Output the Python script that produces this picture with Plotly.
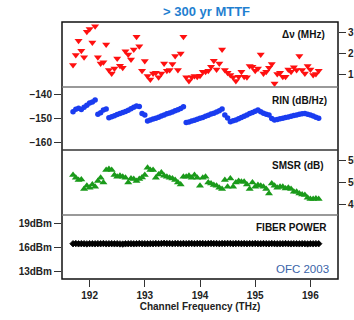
import numpy as np
import plotly.graph_objects as go

# 50 GHz ITU channel grid, 90 channels
channels_thz = np.round(191.70 + 0.05 * np.arange(90), 2)

linewidth_mhz = [
    1.43, 1.91, 2.60, 2.12, 1.80, 3.03, 3.16, 2.52, 3.30, 1.80,
    1.51, 1.56, 2.42, 1.19, 1.03, 1.27, 1.75, 1.40, 1.30, 2.10,
    1.94, 1.70, 2.18, 2.79, 2.34, 1.16, 1.62, 0.90, 0.74, 1.03,
    1.06, 0.84, 1.03, 1.51, 1.16, 1.19, 1.48, 1.86, 1.19, 1.99,
    2.79, 0.84, 0.66, 0.84, 0.90, 0.87, 0.92, 1.11, 1.11, 1.16,
    1.35, 1.64, 1.22, 1.51, 2.18, 1.19, 1.06, 0.95, 0.84, 0.66,
    0.87, 1.11, 0.87, 0.84, 1.38, 1.35, 1.16, 1.27, 1.94, 1.03,
    1.11, 1.30, 1.48, 0.55, 1.00, 1.06, 0.87, 0.87, 1.22, 1.11,
    1.32, 1.19, 1.86, 1.19, 1.03, 1.38, 1.22, 0.95, 1.00, 1.16,
]

rin_db_hz = [
    -147.2, -146.2, -145.8, -146.3, -145.4, -144.6, -143.6, -143.2, -142.4, -148.3,
    -147.6, -146.5, -146.1, -149.7, -149.3, -148.9, -148.4, -148.0, -147.5, -147.1,
    -146.6, -146.0, -145.4, -144.9, -145.1, -147.9, -148.6, -151.0, -150.6, -150.2,
    -149.9, -149.5, -149.0, -148.6, -148.1, -147.7, -147.3, -146.8, -146.4, -145.9,
    -145.2, -151.6, -151.4, -151.0, -150.7, -150.3, -149.9, -149.6, -149.1, -148.7,
    -148.2, -147.8, -147.3, -146.8, -146.1, -148.6, -149.8, -151.3, -150.9, -150.6,
    -150.1, -149.6, -149.1, -148.6, -148.0, -147.5, -147.0, -146.5, -147.2, -147.8,
    -148.3, -148.6, -150.0, -150.6, -150.4, -150.1, -149.9, -149.6, -149.4, -149.1,
    -148.8, -148.6, -148.3, -148.1, -147.9, -148.3, -148.6, -149.0, -149.5, -149.9,
]

smsr_db = [
    51.65, 51.05, 50.52, 50.67, 48.49, 49.24, 48.79, 49.54, 49.01, 50.30,
    51.05, 49.99, 52.78, 53.01, 52.78, 51.65, 51.28, 51.50, 51.28, 51.05,
    49.99, 50.90, 50.75, 50.30, 50.75, 51.13, 51.65, 53.31, 52.78, 52.78,
    51.05, 51.80, 52.26, 51.50, 51.28, 51.05, 50.90, 50.52, 49.99, 49.54,
    51.28, 51.28, 51.50, 51.05, 51.65, 51.05, 49.24, 51.05, 51.28, 49.99,
    49.77, 49.39, 49.24, 48.79, 48.49, 50.52, 49.01, 50.90, 49.01, 49.99,
    50.30, 50.14, 50.14, 49.54, 48.49, 49.99, 49.01, 49.39, 49.24, 49.01,
    48.49, 47.50, 49.77, 49.24, 48.79, 49.01, 49.01, 48.64, 48.79, 48.49,
    47.88, 47.88, 47.50, 47.28, 47.13, 46.52, 46.22, 46.22, 46.37, 46.22,
]

fiber_power_dbm = [
    16.45, 16.47, 16.44, 16.46, 16.45, 16.43, 16.46, 16.45, 16.44, 16.46,
    16.45, 16.47, 16.44, 16.45, 16.46, 16.44, 16.45, 16.43, 16.41, 16.44,
    16.45, 16.46, 16.44, 16.45, 16.47, 16.46, 16.45, 16.44, 16.46, 16.45,
    16.47, 16.46, 16.48, 16.50, 16.47, 16.49, 16.46, 16.48, 16.47, 16.45,
    16.48, 16.46, 16.47, 16.49, 16.46, 16.48, 16.47, 16.48, 16.46, 16.47,
    16.49, 16.47, 16.48, 16.46, 16.48, 16.47, 16.49, 16.48, 16.46, 16.47,
    16.48, 16.46, 16.47, 16.45, 16.47, 16.46, 16.48, 16.46, 16.45, 16.47,
    16.46, 16.45, 16.47, 16.46, 16.44, 16.46, 16.45, 16.47, 16.45, 16.44,
    16.46, 16.45, 16.44, 16.46, 16.45, 16.43, 16.45, 16.44, 16.46, 16.45,
]

freq_ticks = [192, 193, 194, 195, 196]
lw_ticks = [1, 2, 3]
rin_ticks = [-160, -150, -140]
smsr_ticks = [45, 50, 55]
power_ticks = [13, 16, 19]
power_labels = ["13dBm", "16dBm", "19dBm"]

FONT = "Liberation Sans, Arial, sans-serif"
tick_font = dict(family=FONT, size=10, color="#222222", weight="bold")

fig = go.Figure()
fig.add_trace(go.Scatter(x=channels_thz, y=linewidth_mhz, yaxis="y4", mode="markers",
                         marker=dict(symbol="triangle-down", size=7, color="#ff1010")))
fig.add_trace(go.Scatter(x=channels_thz, y=rin_db_hz, yaxis="y3", mode="markers",
                         marker=dict(symbol="circle", size=5.5, color="#1a3cf0")))
fig.add_trace(go.Scatter(x=channels_thz, y=smsr_db, yaxis="y2", mode="markers",
                         marker=dict(symbol="triangle-up", size=7, color="#1a9a1a")))
fig.add_trace(go.Scatter(x=channels_thz, y=fiber_power_dbm, yaxis="y", mode="markers",
                         marker=dict(symbol="diamond", size=5, color="#000000",
                                     line=dict(width=0.8, color="#000000"))))

axis_common = dict(showgrid=False, zeroline=False, showline=False, ticks="outside",
                   ticklen=7, tickwidth=1.3, tickcolor="#333333", tickfont=tick_font,
                   automargin=False, fixedrange=True)

fig.update_layout(
    width=354, height=320,
    margin=dict(l=62, r=16, t=22, b=41),
    paper_bgcolor="white", plot_bgcolor="white",
    showlegend=False,
    xaxis=dict(range=[191.5, 196.5], tickvals=freq_ticks, anchor="y",
               title=dict(text="Channel Frequency (THz)", standoff=0,
                          font=dict(family=FONT, size=10, color="#222222", weight="bold")),
               **axis_common),
    yaxis=dict(domain=[0.0, 0.249], range=[12.04, 20.04], tickvals=power_ticks,
               ticktext=power_labels, side="left", anchor="x", **axis_common),
    yaxis2=dict(domain=[0.249, 0.502], range=[42.62, 57.33], tickvals=smsr_ticks,
                side="right", anchor="x", **axis_common),
    yaxis3=dict(domain=[0.502, 0.747], range=[-162.9, -137.1], tickvals=rin_ticks,
                side="left", anchor="x", **axis_common),
    yaxis4=dict(domain=[0.747, 1.0], range=[0.375, 3.5], tickvals=lw_ticks,
                side="right", anchor="x", **axis_common),
)

# Panel frame and separators
shapes = [
    dict(type="rect", xref="paper", yref="paper", x0=0, x1=1, y0=0, y1=1,
         line=dict(color="#111111", width=1.5)),
]
for yb, col in [(0.249, "#777777"), (0.502, "#333333"), (0.747, "#777777")]:
    shapes.append(dict(type="line", xref="paper", yref="paper", x0=0, x1=1, y0=yb, y1=yb,
                       line=dict(color=col, width=1.5)))
fig.update_layout(shapes=shapes)

label_font = dict(family=FONT, size=10, color="#111111", weight="bold")
annotations = [
    dict(text="> 300 yr MTTF", x=0.5236, y=1.039, xanchor="center", yanchor="middle",
         font=dict(family=FONT, size=13, color="#1f80d0", weight="bold")),
    dict(text="\u0394\u03bd (MHz)", x=0.960, y=0.953, xanchor="right", yanchor="middle",
         font=label_font),
    dict(text="RIN (dB/Hz)", x=0.967, y=0.693, xanchor="right", yanchor="middle",
         font=label_font),
    dict(text="SMSR (dB)", x=0.957, y=0.440, xanchor="right", yanchor="middle",
         font=label_font),
    dict(text="FIBER POWER", x=0.967, y=0.202, xanchor="right", yanchor="middle",
         font=label_font),
    dict(text="OFC 2003", x=0.975, y=0.039, xanchor="right", yanchor="middle",
         font=dict(family=FONT, size=11.5, color="#3a64a8")),
]
for a in annotations:
    a.update(xref="paper", yref="paper", showarrow=False)
fig.update_layout(annotations=annotations)

fig.write_html("out.html")
